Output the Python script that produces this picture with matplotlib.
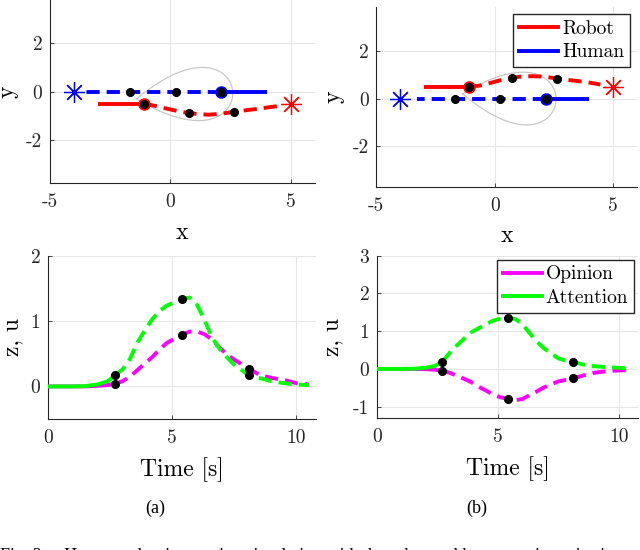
import numpy as np
import matplotlib
matplotlib.use('Agg')
import matplotlib.pyplot as plt
from matplotlib.lines import Line2D

#Computer Modern look for axes text
plt.rcParams['font.family'] = 'serif'
plt.rcParams['font.serif'] = ['cmr10']
plt.rcParams['mathtext.fontset'] = 'cm'
plt.rcParams['axes.unicode_minus'] = False
plt.rcParams['axes.formatter.use_mathtext'] = False

#---- data ----
#(a) x-y trajectories
robot_a_x = [-3.0, -2.0, -1.1, -0.6, -0.1, 0.4, 0.76, 1.2, 1.6, 2.1, 2.64, 3.1, 3.6, 4.1, 4.65]
robot_a_y = [-0.5, -0.5, -0.5, -0.6, -0.72, -0.83, -0.89, -0.94, -0.96, -0.92, -0.84, -0.78, -0.72, -0.65, -0.58]
human_a_x = [4.0, 2.12, 0.24, -1.67, -3.6]
human_a_y = [0.0, 0.0, 0.0, 0.0, 0.0]
#(b) x-y trajectories
robot_b_x = [-3.0, -2.0, -1.1, -0.6, -0.1, 0.35, 0.72, 1.1, 1.59, 2.1, 2.64, 3.2, 3.83, 4.46]
robot_b_y = [0.5, 0.5, 0.5, 0.55, 0.68, 0.8, 0.87, 0.92, 0.94, 0.92, 0.84, 0.77, 0.7, 0.59]
human_b_x = [4.0, 2.15, 0.23, -1.67, -3.3]
human_b_y = [0.0, 0.0, 0.0, 0.0, 0.0]
robot_goal = [(5.0, -0.5), (5.0, 0.5)]
human_goal = [(-4.0, 0.0), (-4.0, 0.0)]
robot_split = 2            #index where robot goes from solid to dashed
robot_dots = [2, 6, 10]    #snapshots at t = 2.7, 5.4, 8.1
human_split = 1
human_dots = [1, 2, 3]

#attention region (teardrop): tip, length, half width, rotation [deg]
lobe_tip = [(-1.4, -0.3), (-1.35, 0.2)]
lobe_len = [4.0, 3.95]
lobe_w = [1.43, 1.43]
lobe_ang = [4.3, -4.3]

#time series
t = [0, 1.0, 1.5, 2.0, 2.4, 2.7, 3.0, 3.3, 3.6, 3.9, 4.2, 4.5, 4.8, 5.1, 5.4,
     5.7, 6.0, 6.3, 6.6, 6.9, 7.2, 7.5, 7.8, 8.1, 8.5, 9.0, 9.5, 10.0, 10.5]
opinion_a = [0, 0, 0, 0.01, 0.02, 0.04, 0.08, 0.15, 0.25, 0.35, 0.45, 0.57, 0.67, 0.73, 0.79,
             0.84, 0.84, 0.8, 0.72, 0.6, 0.49, 0.41, 0.34, 0.27, 0.18, 0.13, 0.1, 0.05, 0.03]
attention_a = [0, 0, 0.005, 0.03, 0.08, 0.17, 0.26, 0.42, 0.67, 0.86, 1.03, 1.16, 1.24, 1.29, 1.34,
               1.36, 1.25, 1.02, 0.75, 0.58, 0.45, 0.33, 0.25, 0.17, 0.13, 0.08, 0.05, 0.03, 0.02]
opinion_b = [0, 0, 0, -0.005, -0.02, -0.05, -0.1, -0.18, -0.26, -0.35, -0.47, -0.57, -0.68, -0.75, -0.79,
             -0.83, -0.8, -0.7, -0.6, -0.49, -0.41, -0.33, -0.29, -0.25, -0.18, -0.1, -0.06, -0.04, -0.03]
attention_b = [0, 0, 0.005, 0.03, 0.08, 0.19, 0.42, 0.62, 0.8, 0.97, 1.08, 1.18, 1.28, 1.33, 1.35,
               1.33, 1.2, 0.96, 0.73, 0.55, 0.41, 0.28, 0.22, 0.19, 0.12, 0.07, 0.05, 0.03, 0.02]
t_split = 5
t_dots = [5, 14, 23]

RED, BLUE, MAG, GRN = '#ff0000', '#0000ff', '#ff00ff', '#00ff00'
LW = 2.8
DASH = (3.4, 1.8)
AXC = '#262626'

fig = plt.figure(figsize=(6.4, 5.5), dpi=100)

def style(ax):
    for s in ['top', 'right']:
        ax.spines[s].set_visible(False)
    for s in ['left', 'bottom']:
        ax.spines[s].set_color(AXC)
        ax.spines[s].set_linewidth(0.8)
    ax.grid(True, color='#e6e6e6', lw=0.8)
    ax.set_axisbelow(True)
    ax.tick_params(direction='in', length=3, width=0.6, colors=AXC, labelsize=14, labelcolor='#262626')
    ax.tick_params(axis='x', pad=7)
    ax.tick_params(axis='y', pad=5.5)

def lobe(ax, tip, L, w, ang):
    #teardrop outline of the attention region
    s = np.linspace(0, 2*np.pi, 200)
    lx = L*(1-np.cos(s))/2
    ly = w*np.sin(s)*np.sin(s/2)
    a = np.deg2rad(ang)
    ax.plot(tip[0]+lx*np.cos(a)-ly*np.sin(a), tip[1]+lx*np.sin(a)+ly*np.cos(a),
            color='#c8c8c8', lw=0.9, zorder=1)

def traj(ax, x, y, split, dots, c, ring=True):
    ax.plot(x[:split+1], y[:split+1], color=c, lw=LW, solid_capstyle='butt', zorder=3)
    ax.plot(x[split:], y[split:], color=c, lw=LW, ls='--', dashes=DASH, zorder=3)
    if ring:
        ax.plot(x[split], y[split], 'o', ms=8, mfc=c, mec=c, zorder=4)
    ax.plot([x[i] for i in dots], [y[i] for i in dots], 'o', color='k', ms=5.5, zorder=5)

def legend(ax, colors, labels, pad):
    h = [Line2D([], [], color=c, lw=LW) for c in colors]
    ax.legend(h, labels, loc='upper right', fontsize=14, fancybox=False,
              edgecolor=AXC, framealpha=1, handlelength=2.0, handletextpad=0.2,
              labelspacing=0.3, borderpad=0.3, borderaxespad=pad)

#top row: x-y plane
pos_top = [[0.078, 0.667, 0.414, 0.333], [0.588, 0.660, 0.407, 0.327]]
ylims_top = [(-3.8, 3.8), (-3.7, 3.83)]
robots = [(robot_a_x, robot_a_y), (robot_b_x, robot_b_y)]
humans = [(human_a_x, human_a_y), (human_b_x, human_b_y)]
ylab_x = [-0.16, -0.163]
for k in range(2):
    ax = fig.add_axes(pos_top[k])
    style(ax)
    lobe(ax, lobe_tip[k], lobe_len[k], lobe_w[k], lobe_ang[k])
    traj(ax, humans[k][0], humans[k][1], human_split, human_dots, BLUE)
    traj(ax, robots[k][0], robots[k][1], robot_split, robot_dots, RED)
    ast = (8, 2, 0)
    ax.plot(*robot_goal[k], marker=ast, ms=15, color=RED, mew=0.9, ls='none', zorder=4)
    ax.plot(*human_goal[k], marker=ast, ms=15, color=BLUE, mew=0.9, ls='none', zorder=4)
    ax.set_xlim(-5, 6)
    ax.set_ylim(*ylims_top[k])
    ax.set_xticks([-5, 0, 5])
    ax.set_yticks([-2, 0, 2])
    ax.set_xlabel('x', fontsize=17, va='center')
    ax.set_ylabel('y', fontsize=17, va='center')
    ax.xaxis.set_label_coords(0.5, -0.27)
    ax.yaxis.set_label_coords(ylab_x[k], 0.5)
    if k == 1:
        legend(ax, [RED, BLUE], ['Robot', 'Human'], 0.35)

#bottom row: opinion and attention
pos_bot = [[0.075, 0.238, 0.419, 0.297], [0.589, 0.240, 0.408, 0.295]]
ylims_bot = [(-0.5, 2.0), (-1.3, 3.0)]
yticks_bot = [[0, 1, 2], [-1, 0, 1, 2, 3]]
series = [(opinion_a, attention_a), (opinion_b, attention_b)]
zlab_x = [-0.135, -0.172]
for k in range(2):
    ax = fig.add_axes(pos_bot[k])
    style(ax)
    op, at = series[k]
    traj(ax, t, op, t_split, t_dots, MAG, ring=False)
    traj(ax, t, at, t_split, t_dots, GRN, ring=False)
    ax.set_xlim(0, 10.8)
    ax.set_ylim(*ylims_bot[k])
    ax.set_xticks([0, 5, 10])
    ax.set_yticks(yticks_bot[k])
    ax.set_xlabel('Time [s]', fontsize=17, va='center')
    ax.set_ylabel('z, u', fontsize=17, va='center')
    ax.xaxis.set_label_coords(0.5, -0.31)
    ax.yaxis.set_label_coords(zlab_x[k], 0.5)
    if k == 1:
        legend(ax, [MAG, GRN], ['Opinion', 'Attention'], 0.2)

#sub-captions and (cut off) figure caption
fig.text(155/640, 1-508/550, '(a)', family='Liberation Serif', fontsize=13, ha='center', va='center')
fig.text(477/640, 1-508/550, '(b)', family='Liberation Serif', fontsize=13, ha='center', va='center')
fig.text(0.0, 1-548/550, 'Fig. 3.    Human-robot interaction simulation with the robot and human trajectories in',
         family='Liberation Serif', fontsize=13, ha='left', va='top')

fig.savefig('out.png', dpi=100)
